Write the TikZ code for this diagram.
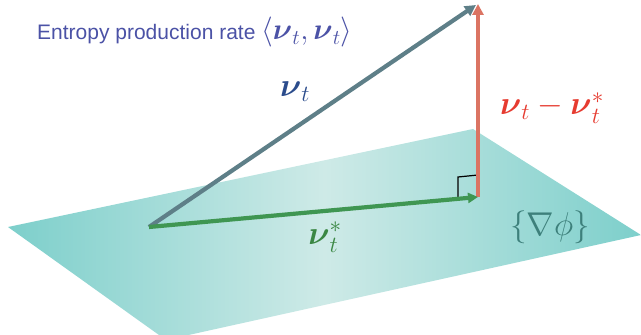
\RequirePackage{fix-cm}
\documentclass[tikz,border=0pt]{standalone}
\usepackage{amsmath,amssymb}
\usepackage[no-math]{fontspec}
\newfontfamily\helv{Liberation Sans}
\usetikzlibrary{arrows.meta,positioning}
\definecolor{plane}{HTML}{7DCFCB}
\definecolor{planelight}{HTML}{CEEAE7}
\definecolor{steel}{HTML}{5E7F88}
\definecolor{leaf}{HTML}{3F9652}
\definecolor{salmon}{HTML}{DB7463}
\definecolor{navy}{HTML}{2B4C8C}
\definecolor{rust}{HTML}{E63B30}
\definecolor{moss}{HTML}{3A8743}
\definecolor{deepteal}{HTML}{3D807B}
\definecolor{slate}{HTML}{4B52A6}
\begin{document}
\begin{tikzpicture}[x=1pt,y=1pt,>={Triangle[length=11pt,width=11pt]},
  vec/.style={line width=4.2pt,->},
  lbl/.style={font=\fontsize{33}{33}\selectfont,inner sep=0pt}]
\useasboundingbox (0,0) rectangle (641,335);
% the plane {grad phi}
\shade[left color=plane,right color=plane,middle color=planelight]
  (8,108)--(473,206)--(641,100)--(166,-5)--cycle;
\coordinate (o) at (149,108);
\coordinate (p) at (478,138);
\coordinate (q) at (478,331);
\coordinate (qq) at (476,330);
% right angle
\draw[line width=1.2pt] (458,137)--(458,158)--(478,160);
\draw[vec,steel](o)--(qq);
\draw[vec,salmon](p)--(q);
\draw[vec,leaf,>={Triangle[length=10pt,width=10pt]}](o)--(p);
\node[lbl,text=navy](nu) at (295,243){$\boldsymbol{\nu}_t$};
\node[lbl,text=rust,anchor=base](diff) at (552,220){$\boldsymbol{\nu}_t-\boldsymbol{\nu}_t^*$};
\node[lbl,text=moss](nustar) at (325,98){$\boldsymbol{\nu}_t^*$};
\node[lbl,text=deepteal](grad) at (550,108){$\{\nabla\phi\}$};
\node[anchor=base west,inner sep=0pt,text=slate](rate) at (37,295){\helv\fontsize{21}{21}\selectfont Entropy production rate {\fontsize{30}{30}\selectfont$\langle\boldsymbol{\nu}_t,\boldsymbol{\nu}_t\rangle$}};
\end{tikzpicture}
\end{document}
